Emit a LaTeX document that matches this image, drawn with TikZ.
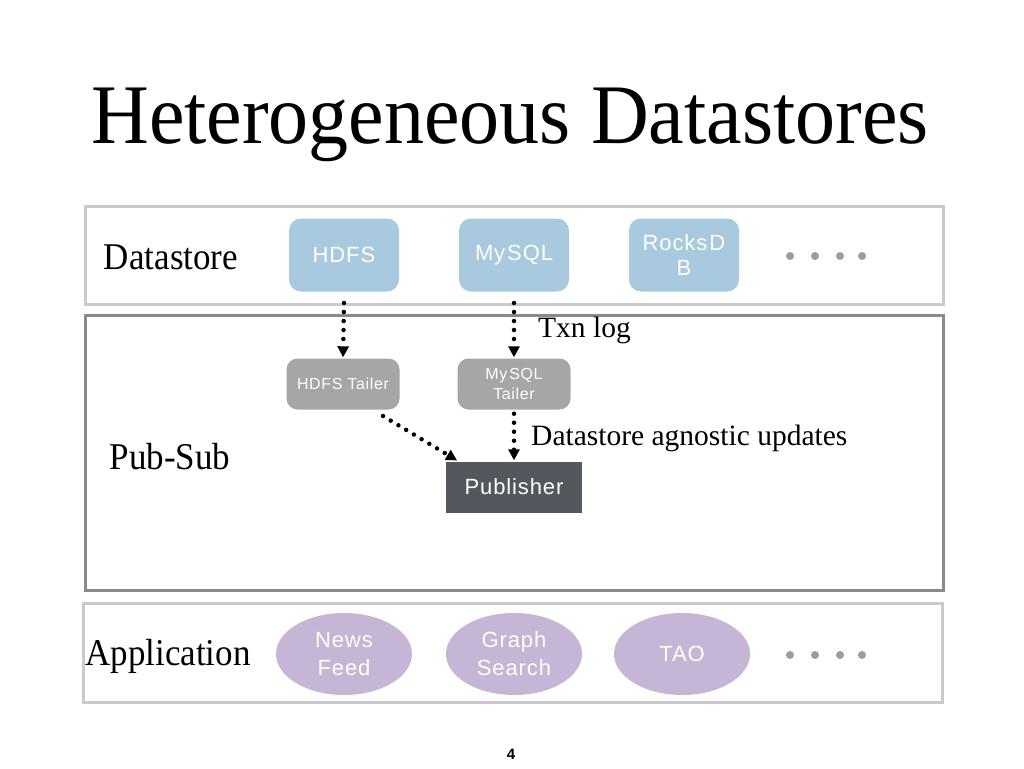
\documentclass[tikz,border=0pt]{standalone}
\usepackage{fontspec}
\setmainfont{Liberation Serif}
\setsansfont{Liberation Sans}
\newfontfamily\wsans[LetterSpace=4]{Liberation Sans}
\usetikzlibrary{arrows.meta,shapes.geometric}
\definecolor{dsblue}{HTML}{A9C9DE}
\definecolor{tailgray}{HTML}{A6A6A6}
\definecolor{pubdark}{HTML}{53575E}
\definecolor{applav}{HTML}{C4B6D4}
\definecolor{lightborder}{HTML}{CACACA}
\definecolor{darkborder}{HTML}{8A8A8A}
\definecolor{dotgray}{HTML}{9C9C9C}
\begin{document}
\begin{tikzpicture}[x=1pt,y=-1pt,
  lbl/.style={font=\fontsize{35}{40}\selectfont, inner sep=0pt, yscale=1.08},
  small/.style={font=\fontsize{29.5}{33}\selectfont, inner sep=0pt, anchor=west},
  dsbox/.style={draw=none, fill=dsblue, rounded corners=12pt, minimum width=110pt, minimum height=73pt, text=white, font=\wsans\fontsize{22}{25}\selectfont, align=center, inner sep=0pt},
  tailbox/.style={fill=tailgray, rounded corners=11pt, minimum width=113pt, minimum height=51pt, text=white, font=\wsans\fontsize{16}{20}\selectfont, align=center, inner sep=0pt},
  pubbox/.style={fill=pubdark, minimum width=136pt, minimum height=51pt, text=white, font=\wsans\fontsize{22}{24}\selectfont, inner sep=0pt},
  appell/.style={ellipse, fill=applav, minimum width=136pt, minimum height=82pt, text=white, font=\wsans\fontsize{22}{28}\selectfont, align=center, inner sep=0pt},
  flow/.style={line width=4.5pt, line cap=round, dash pattern=on 0pt off 9pt, -{Triangle[length=11pt,width=11pt,line cap=butt]}, shorten >=1pt},
  gdot/.style={circle, fill=dotgray, minimum size=8pt, inner sep=0pt}
]
\useasboundingbox (0,0) rectangle (1024,768);
\fill[white] (0,0) rectangle (1024,768);

\node[font=\fontsize{80}{90}\selectfont, inner sep=0pt, yscale=1.06] (title) at (510,125) {Heterogeneous Datastores};

% layer boxes
\draw[lightborder, line width=3pt] (85,206) rectangle (943,304);
\draw[darkborder, line width=3pt] (85,315) rectangle (943,590);
\draw[lightborder, line width=3pt] (83,603) rectangle (942,702);

\node[lbl] (lds) at (171,257) {Datastore};
\node[lbl] (lps) at (170,457) {Pub-Sub};
\node[lbl] (lapp) at (168,656) {Application};

% datastores
\node[dsbox] (hdfs) at (344,255) {HDFS};
\node[dsbox] (mysql) at (514,255) {My\hspace{2pt}SQL};
\node[dsbox] (rocks) at (684,255) {Rocks\hspace{2pt}D\\B};
\foreach \i/\x in {1/790,2/815,3/840,4/862}{\node[gdot] (dd\i) at (\x,256) {};}

% pub-sub
\node[tailbox] (htail) at (343,384) {HDFS Tailer};
\node[tailbox] (mtail) at (514,384) {My\hspace{2pt}SQL\\Tailer};
\node[pubbox] (pub) at (514,487) {Publisher};

\node[small] (txn) at (538,330) {Txn log};
\node[small] (agn) at (531,438) {Datastore agnostic updates};

\draw[flow] (hdfs.south |- 0,303) -- (htail.north);
\draw[flow] (mysql.south |- 0,303) -- (mtail.north);
\coordinate (hstart) at (383,416);
\coordinate (hend) at (458,461);
\draw[flow] (hstart) -- (hend);
\draw[flow] ([yshift=-4pt]mtail.south) -- (pub.north);

% applications
\node[appell] (news) at (344,654) {News\\Feed};
\node[appell] (graph) at (514,654) {Graph\\Search};
\node[appell] (tao) at (682,654) {TAO};
\foreach \i/\x in {1/790,2/815,3/840,4/862}{\node[gdot] (ad\i) at (\x,655) {};}

\node[font=\sffamily\bfseries\fontsize{15}{16}\selectfont, inner sep=0pt] (pnum) at (511,754) {4};
\end{tikzpicture}
\end{document}
